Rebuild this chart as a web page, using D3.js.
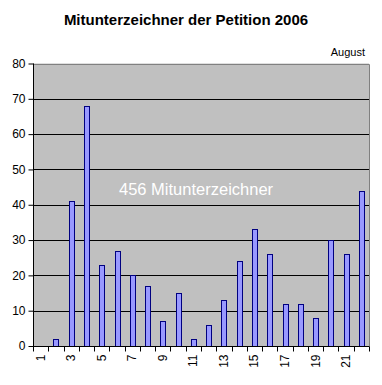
<!DOCTYPE html>
<html><head><meta charset="utf-8">
<script src="https://cdn.jsdelivr.net/npm/d3@7"></script>
<style>body{margin:0;background:#fff}svg{display:block}text{font-family:Arial,"Liberation Sans",sans-serif}</style>
</head><body><svg id="c" width="382" height="385"></svg>
<script>
const days = d3.range(1, 23).map(String);
const signers = [0,2,41,68,23,27,20,17,7,15,2,6,13,24,33,26,12,12,8,30,26,44];
const yTicks = [0,10,20,30,40,50,60,70,80];
const title = "Mitunterzeichner der Petition 2006";
const monthLabel = "August";
const note = "456 Mitunterzeichner";

const svg = d3.select("#c");
const m = {l:33, r:369, t:63.5, b:346};
const x = d3.scaleBand().domain(days).range([m.l, m.r]);
const y = d3.scaleLinear().domain([0,80]).range([m.b, m.t]);

svg.append("rect").attr("x",m.l).attr("y",m.t).attr("width",m.r-m.l).attr("height",m.b-m.t).attr("fill","#c0c0c0");
svg.append("g").selectAll("line").data(yTicks.filter(d=>d>0)).join("line")
  .attr("x1",m.l).attr("x2",m.r).attr("y1",d=>Math.round(y(d))+0.5).attr("y2",d=>Math.round(y(d))+0.5)
  .attr("stroke","#000").attr("stroke-width",1);
svg.append("path").attr("d",`M${m.l},${Math.round(m.t)+0.5}H${m.r+0.5}V${m.b}`).attr("fill","none").attr("stroke","#808080");

const bw = 5;
svg.append("g").selectAll("rect").data(signers.map((v,i)=>({d:days[i],v})).filter(o=>o.v>0)).join("rect")
  .attr("x",o=>Math.round(x(o.d)+x.bandwidth()/2-bw/2)+0.5)
  .attr("y",o=>Math.round(y(o.v))+0.5)
  .attr("width",bw)
  .attr("height",o=>Math.round(y(0))-Math.round(y(o.v)))
  .attr("fill","#9999ff").attr("stroke","#000080").attr("stroke-width",1);

const ya = svg.append("g").attr("transform",`translate(${m.l+0.5},0)`)
  .call(d3.axisLeft(y).tickValues(yTicks).tickSize(5).tickPadding(3).tickFormat(d3.format("d")));
ya.select(".domain").attr("d",`M0,${m.t}V${m.b}`).attr("stroke","#000");
ya.selectAll(".tick text").attr("font-size","12px").attr("fill","#000").attr("font-family","Arial,'Liberation Sans',sans-serif");

const xg = svg.append("g").attr("transform",`translate(0,${Math.round(m.b)+0.5})`);
xg.append("line").attr("x1",m.l).attr("x2",m.r+0.5).attr("stroke","#000");
const bounds = days.map(d=>x(d)).concat([m.r]);
xg.selectAll("line.t").data(bounds).join("line").attr("class","t")
  .attr("x1",d=>Math.round(d)+0.5).attr("x2",d=>Math.round(d)+0.5).attr("y1",0).attr("y2",5).attr("stroke","#000");
xg.selectAll("text").data(days.filter((d,i)=>i%2===0)).join("text")
  .attr("transform",d=>`translate(${x(d)+x.bandwidth()/2+4},8) rotate(-90)`)
  .attr("text-anchor","end").attr("font-size","12px").attr("fill","#000").text(d=>d);

svg.append("text").attr("x",186).attr("y",25).attr("text-anchor","middle")
  .attr("font-size","15px").attr("font-weight","bold").text(title);
svg.append("text").attr("x",365).attr("y",56).attr("text-anchor","end")
  .attr("font-size","11px").text(monthLabel);
svg.append("text").attr("x",119).attr("y",195).attr("font-size","16.5px").attr("fill","#fff").text(note);
</script></body></html>
